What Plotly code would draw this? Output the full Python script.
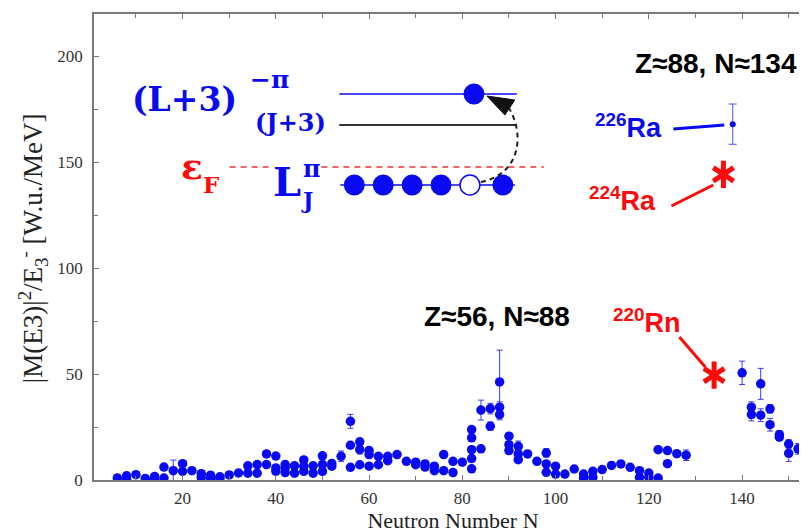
import plotly.graph_objects as go

# ---------------- data ----------------
neutron_n = [6, 8, 8, 10, 12, 14, 14, 16, 16, 18, 20, 20, 22, 24, 24, 26, 26, 28, 28, 30, 32,
             34, 34, 36, 36, 38, 38, 40, 40, 40, 42, 42, 42, 44, 44, 46, 46, 46, 48, 48,
             50, 50, 50, 52, 52, 54, 56, 56, 56, 58, 58, 58, 60, 60, 60, 62, 62, 64, 64,
             66, 68, 70, 70, 72, 72, 74, 74, 76, 76, 78, 78, 80,
             82, 82, 82, 82, 82, 84, 84, 86, 86, 88, 88, 88, 90, 90, 90, 92, 92, 92, 94, 96,
             98, 98, 98, 100, 100, 102, 104, 106, 106, 108, 108, 110, 112, 114, 116, 118, 118,
             120, 120, 122, 122, 124, 124, 126, 128,
             140, 142, 142, 144, 144, 146, 146, 148, 148, 150, 150, 152]
strength = [1.0, 2.0, 0.3, 2.5, 0.7, 1.7, 0.3, 6.1, 0.9, 4.4, 7.7, 4.1, 4.4, 3.0, 1.2, 2.3, 0.8, 1.5, 0.8, 2.4, 3.3,
            6.7, 3.2, 7.3, 3.2, 12.3, 7.3, 11.3, 5.7, 4.1, 7.3, 5.7, 3.5, 6.7, 3.2, 9.5, 6.5, 4.1, 6.7, 3.2,
            11.4, 7.3, 4.1, 7.8, 6.5, 11.2, 27.7, 16.4, 6.0, 18.0, 14.3, 7.2, 13.9, 12.0, 6.5, 11.2, 7.2, 11.2, 9.1,
            12.0, 8.8, 8.4, 7.2, 7.6, 6.1, 6.5, 4.4, 12.0, 4.4, 8.8, 3.5, 8.4,
            23.8, 19.9, 14.3, 10.1, 5.3, 33.0, 14.7, 33.7, 25.4, 46.3, 34.4, 30.9, 20.7, 16.7, 13.9, 15.9, 12.3, 9.6, 12.3, 8.8,
            12.8, 7.6, 3.6, 6.5, 2.8, 2.8, 5.2, 2.8, 0.9, 4.1, 1.3, 4.9, 6.9, 7.6, 6.0, 4.4, 1.3,
            3.3, 1.3, 14.3, 0.9, 13.9, 7.7, 12.4, 11.7,
            50.6, 34.4, 30.9, 45.4, 30.6, 33.6, 26.1, 21.4, 20.2, 17.0, 12.6, 14.7]
strength_err = [0.5, 0.5, 0.3, 0.5, 0.3, 0.5, 0.3, 1.0, 0.5, 5.0, 1.0, 1.0, 0.8, 0.5, 0.5, 0.5, 0.3, 0.4, 0.3, 0.5, 0.6,
                1.0, 0.6, 1.0, 0.6, 1.0, 1.0, 1.0, 1.0, 1.0, 1.5, 1.0, 0.6, 1.0, 0.6, 1.5, 1.0, 0.8, 1.0, 0.6,
                1.0, 1.0, 0.8, 1.0, 1.0, 2.5, 3.3, 1.5, 1.0, 1.5, 2.0, 1.0, 1.5, 1.5, 1.0, 1.0, 1.0, 1.0, 1.0,
                1.0, 1.0, 1.5, 1.0, 1.5, 1.0, 1.5, 1.0, 1.0, 1.0, 1.0, 0.8, 1.0,
                1.5, 1.5, 1.5, 1.5, 1.0, 4.7, 1.5, 2.5, 2.0, 15.0, 2.5, 2.5, 1.5, 1.5, 1.5, 2.5, 1.5, 1.0, 1.5, 1.0,
                2.0, 1.0, 0.8, 1.0, 0.6, 0.6, 0.8, 0.6, 0.4, 0.6, 0.4, 0.6, 0.8, 0.8, 0.8, 0.6, 0.4,
                0.6, 0.4, 1.0, 0.4, 1.0, 1.0, 1.5, 2.5,
                5.5, 2.5, 3.0, 7.3, 3.0, 2.0, 3.0, 2.0, 1.5, 2.0, 3.8, 2.5]

ra226_n = [138]
ra226_val = [168.0]
ra226_err = [9.5]

star_n = [134, 136]          # 220Rn, 224Ra
star_val = [49.5, 144.3]

x_ticks = [20, 40, 60, 80, 100, 120, 140]
y_ticks = [0, 50, 100, 150, 200]

BLUE = "#0a0af0"
RED = "#ff0a0a"

# ---------------- geometry helpers (pixel -> paper) ----------------
W, H = 807, 529
L_M, R_M, T_M, B_M = 86, 1, 6, 57
PW = W - L_M - R_M
PH = H - T_M - B_M


def px(x):
    return (x - L_M) / PW


def py(y):
    return (H - B_M - y) / PH


fig = go.Figure()

fig.add_trace(go.Scatter(
    x=neutron_n, y=strength, mode="markers",
    marker=dict(color=BLUE, size=9.5, line=dict(width=0)),
    error_y=dict(type="data", array=strength_err, visible=True,
                 color="#3a3aff", thickness=1, width=3),
    showlegend=False, hoverinfo="skip"))

fig.add_trace(go.Scatter(
    x=ra226_n, y=ra226_val, mode="markers",
    marker=dict(color=BLUE, size=6),
    error_y=dict(type="data", array=ra226_err, visible=True,
                 color="#5050ff", thickness=1, width=4),
    showlegend=False, hoverinfo="skip"))

for sym in ["y-up-open", "y-down-open"]:
    fig.add_trace(go.Scatter(
        x=star_n, y=star_val, mode="markers",
        marker=dict(symbol=sym, size=17, color=RED, line=dict(color=RED, width=5)),
        showlegend=False, hoverinfo="skip"))

shapes = []


def line(x0, y0, x1, y1, color, width, dash="solid"):
    shapes.append(dict(type="line", xref="paper", yref="paper",
                       x0=px(x0), y0=py(y0), x1=px(x1), y1=py(y1),
                       line=dict(color=color, width=width, dash=dash)))


def circle(cx, cy, r, fill, lc, lw=1.5):
    shapes.append(dict(type="circle", xref="paper", yref="paper",
                       x0=px(cx - r), x1=px(cx + r), y0=py(cy + r), y1=py(cy - r),
                       fillcolor=fill, line=dict(color=lc, width=lw)))


# inset level diagram
line(332, 86, 510, 86, BLUE, 1.5)
line(332, 117, 510, 117, "#333333", 2)
line(222, 159, 262, 159, "#ee3333", 1.5, "6px,5px")
line(314, 159, 537, 159, "#ee3333", 1.5, "6px,5px")
line(333, 177, 508, 177, BLUE, 1.5)
for cx in [347, 376, 405, 434, 496]:
    circle(cx, 177, 10.5, BLUE, BLUE, 0)
circle(463, 177, 10, "white", BLUE, 1.5)
circle(467, 86, 10.5, BLUE, BLUE, 0)

curve = "M {:.5f},{:.5f} C {:.5f},{:.5f} {:.5f},{:.5f} {:.5f},{:.5f}".format(
    px(474), py(174), px(514), py(166), px(518), py(126), px(502), py(100))
shapes.append(dict(type="path", xref="paper", yref="paper", path=curve,
                   line=dict(color="#222222", width=2, dash="5px,4px")))
tri = "M {:.5f},{:.5f} L {:.5f},{:.5f} L {:.5f},{:.5f} Z".format(
    px(480), py(88), px(508), py(92), px(498), py(107))
shapes.append(dict(type="path", xref="paper", yref="paper", path=tri,
                   fillcolor="#111111", line=dict(color="#111111", width=1)))

# pointer lines for nuclei labels
line(667, 121, 718, 117, BLUE, 3)
line(665, 198, 707, 177, RED, 3)
line(673, 329, 699, 359, RED, 3)

annotations = []


def ann(text, x, y, size, color, family, xanchor="center", yanchor="middle", angle=0, pad=1):
    annotations.append(dict(text=text, x=px(x), y=py(y), xref="paper", yref="paper",
                            showarrow=False, xanchor=xanchor, yanchor=yanchor,
                            textangle=angle, borderpad=pad,
                            font=dict(size=size, color=color, family=family)))


SERIFB = "DejaVu Serif"
SANS = "Liberation Sans"
ann("<b>(L+3)</b>", 177, 92, 33, BLUE, SERIFB)
ann("<b>−π</b>", 262, 72, 25, BLUE, SERIFB)
ann("<b>(J+3)</b>", 283, 115, 24, BLUE, SERIFB)
ann("<b>ε</b>", 184, 158, 36, RED, SERIFB)
ann("<b>F</b>", 204, 176, 23, RED, SERIFB)
ann("<b>L</b>", 280, 174, 40, BLUE, SERIFB)
ann("<b>π</b>", 305, 160, 24, BLUE, SERIFB)
ann("<b>J</b>", 300, 192, 22, BLUE, SERIFB)

ann("<b>Z≈88, N≈134</b>", 710, 55, 28, "black", SANS)
ann("<b>Z≈56, N≈88</b>", 490, 308, 28, "black", SANS)
ann("<b><sup>226</sup>Ra</b>", 622, 118, 27, BLUE, SANS)
ann("<b><sup>224</sup>Ra</b>", 616, 191, 27, RED, SANS)
ann("<b><sup>220</sup>Rn</b>", 641, 313, 27, RED, SANS)

ann("|M(E3)|<sup>2</sup>/E<sub>3</sub><sup>-</sup> [W.u./MeV]", 25, 240, 27, "#222222",
    "Liberation Serif", angle=-90)

axis_common = dict(showline=True, linecolor="#7a7a7a", linewidth=1.5, mirror="ticks",
                   ticks="inside", tickcolor="#7a7a7a", ticklen=5, tickwidth=1.2,
                   showgrid=False, zeroline=False,
                   tickfont=dict(family="Liberation Serif", size=17, color="#333333"))

fig.update_layout(
    width=W, height=H,
    margin=dict(l=L_M, r=R_M, t=T_M, b=B_M),
    paper_bgcolor="white", plot_bgcolor="white",
    xaxis=dict(range=[1, 155], tickvals=x_ticks, ticklabelstandoff=2,
               title=dict(text="Neutron Number N", standoff=2,
                          font=dict(family="Liberation Serif", size=22, color="#222222")),
               automargin=False,
               minor=dict(dtick=10, tick0=0, ticks="inside", ticklen=4, tickcolor="#7a7a7a"),
               **axis_common),
    yaxis=dict(range=[0, 220], tickvals=y_ticks, ticklabelstandoff=6,
               minor=dict(dtick=25, tick0=0, ticks="inside", ticklen=4, tickcolor="#7a7a7a"),
               **axis_common),
    shapes=shapes, annotations=annotations,
)

fig.write_html("out.html")
